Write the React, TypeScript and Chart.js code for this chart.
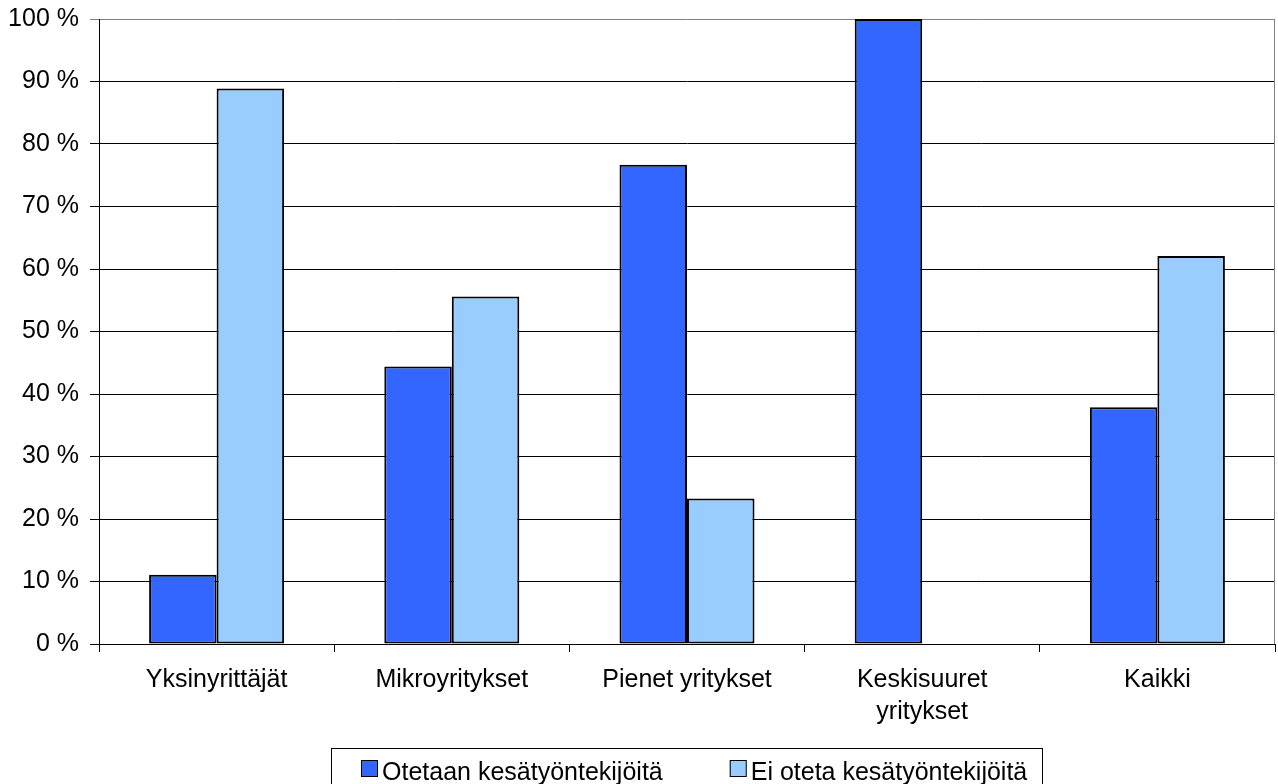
import React, { useEffect, useRef } from 'react';
import { Chart, registerables } from 'chart.js';

Chart.register(...registerables);

const categories: (string | string[])[] = [
  'Yksinyrittäjät',
  'Mikroyritykset',
  'Pienet yritykset',
  ['Keskisuuret', 'yritykset'],
  'Kaikki',
];
const seriesLabels = ['Otetaan kesätyöntekijöitä', 'Ei oteta kesätyöntekijöitä'];
const otetaan = [11.1, 44.4, 76.7, 100, 37.9];
const eiOteta = [88.9, 55.6, 23.3, 0, 62.1];
const seriesColors = ['#3366FF', '#99CCFF'];
const yMin = 0;
const yMax = 100;
const yStep = 10;
const tickSuffix = ' %';

const FONT = '"Liberation Sans", Arial, Helvetica, sans-serif';

const frameLines = {
  id: 'frameLines',
  beforeDatasetsDraw(chart: any) {
    const { ctx, chartArea } = chart;
    ctx.save();
    ctx.strokeStyle = '#808080';
    ctx.lineWidth = 1;
    ctx.beginPath();
    const x = Math.round(chartArea.right) - 0.5;
    ctx.moveTo(x, chartArea.top);
    ctx.lineTo(x, chartArea.bottom);
    ctx.stroke();
    ctx.restore();
  },
};

const legendBox = {
  id: 'legendBox',
  afterDraw(chart: any) {
    const { ctx, chartArea } = chart;
    const ds = chart.data.datasets;
    ctx.save();
    ctx.font = `25px ${FONT}`;
    const marker = 17;
    const gap = 4;
    const between = 67;
    const widths = ds.map((d: any) => ctx.measureText(d.label).width);
    const itemsW =
      widths.reduce((a: number, w: number) => a + marker + gap + w, 0) + between * (ds.length - 1);
    const center = (chartArea.left + chartArea.right) / 2;
    const padL = 30;
    const padR = 15;
    const boxW = itemsW + padL + padR;
    const boxLeft = Math.round(center - boxW / 2);
    const boxTop = chartArea.bottom + 104;
    ctx.strokeStyle = '#000';
    ctx.lineWidth = 1;
    ctx.strokeRect(boxLeft + 0.5, boxTop + 0.5, Math.round(boxW), 80);
    let x = boxLeft + padL;
    const markerTop = boxTop + 12;
    const baseline = boxTop + 32;
    ds.forEach((d: any, i: number) => {
      ctx.fillStyle = d.backgroundColor;
      ctx.fillRect(x, markerTop, marker, marker);
      ctx.strokeStyle = '#000';
      ctx.strokeRect(x + 0.5, markerTop + 0.5, marker - 1, marker - 1);
      ctx.fillStyle = '#000';
      ctx.textBaseline = 'alphabetic';
      ctx.textAlign = 'left';
      ctx.fillText(d.label, x + marker + gap, baseline);
      x += marker + gap + widths[i] + between;
    });
    ctx.restore();
  },
};

export default function App() {
  const canvasRef = useRef<HTMLCanvasElement | null>(null);

  useEffect(() => {
    if (!canvasRef.current) return;
    const chart = new Chart(canvasRef.current, {
      type: 'bar',
      data: {
        labels: categories as any,
        datasets: [
          {
            label: seriesLabels[0],
            data: otetaan,
            backgroundColor: seriesColors[0],
            borderColor: '#000',
            borderWidth: 2,
            borderSkipped: false,
            categoryPercentage: 0.574,
            barPercentage: 1,
          },
          {
            label: seriesLabels[1],
            data: eiOteta,
            backgroundColor: seriesColors[1],
            borderColor: '#000',
            borderWidth: 2,
            borderSkipped: false,
            categoryPercentage: 0.574,
            barPercentage: 1,
          },
        ],
      },
      options: {
        animation: false,
        responsive: true,
        maintainAspectRatio: false,
        layout: { padding: { top: 19, right: 3, bottom: 50, left: 0 } },
        plugins: {
          legend: { display: false },
          tooltip: { enabled: false },
        },
        scales: {
          x: {
            grid: {
              offset: true,
              drawOnChartArea: false,
              drawTicks: true,
              tickLength: 8,
              color: '#000',
              lineWidth: 1,
            },
            border: { display: true, color: '#000', width: 1 },
            ticks: {
              color: '#000',
              font: { family: FONT, size: 25, lineHeight: 1.28 },
              padding: 12,
              maxRotation: 0,
              autoSkip: false,
            },
            afterFit: (scale: any) => {
              scale.height = 90;
              scale.paddingLeft = 0;
              scale.paddingRight = 0;
            },
          },
          y: {
            min: yMin,
            max: yMax,
            grid: {
              color: (c: any) => (c.tick && c.tick.value === yMax ? '#808080' : '#000'),
              lineWidth: 1,
              drawTicks: true,
              tickLength: 9,
            },
            border: { display: true, color: '#000', width: 1 },
            ticks: {
              stepSize: yStep,
              color: '#000',
              font: { family: FONT, size: 25 },
              padding: 11,
              callback: (v: any) => `${v}${tickSuffix}`,
            },
            afterFit: (scale: any) => {
              scale.width = 99;
              scale.paddingTop = 0;
              scale.paddingBottom = 0;
            },
          },
        },
      },
      plugins: [frameLines, legendBox],
    });
    return () => chart.destroy();
  }, []);

  return (
    <div style={{ position: 'fixed', left: 0, top: 0, width: 1278, height: 784, background: '#fff' }}>
      <canvas ref={canvasRef} />
    </div>
  );
}
